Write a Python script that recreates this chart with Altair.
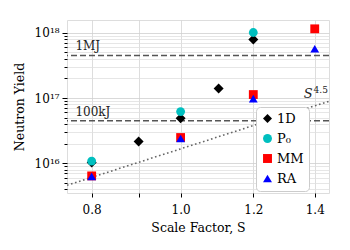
import altair as alt
import pandas as pd

# ---- data ----
series_names = ["1D", "P₀", "MM", "RA"]
s_1d = [0.8, 0.9, 1.0, 1.1, 1.2]
y_1d = [1.03e16, 2.15e16, 4.9e16, 1.4e17, 7.9e17]
s_p0 = [0.8, 1.0, 1.2]
y_p0 = [1.08e16, 6.2e16, 1.01e18]
s_mm = [0.8, 1.0, 1.2, 1.4]
y_mm = [6.4e15, 2.48e16, 1.13e17, 1.15e18]
s_ra = [0.8, 1.0, 1.2, 1.4]
y_ra = [6.3e15, 2.4e16, 9.8e16, 5.7e17]

# S^4.5 guide line (end points)
s_fit = [0.752, 1.451]
y_fit = [4.6e15, 8.9e16]

# energy reference lines
energy_labels = ["1MJ", "100kJ"]
energy_yield = [4.5e17, 4.5e16]

x_ticks = [0.8, 0.9, 1.0, 1.2, 1.4]
y_major = [1e16, 1e17, 1e18]
y_minor = [4e15, 5e15, 6e15, 7e15, 8e15, 9e15,
           2e16, 3e16, 4e16, 5e16, 6e16, 7e16, 8e16, 9e16,
           2e17, 3e17, 4e17, 5e17, 6e17, 7e17, 8e17, 9e17]

x_domain = [0.752, 1.451]
y_domain = [3.5e15, 1.57e18]

FONT = "DejaVu Serif"

rows = []
for name, ss, yy in [("1D", s_1d, y_1d), ("P₀", s_p0, y_p0),
                     ("MM", s_mm, y_mm), ("RA", s_ra, y_ra)]:
    for s, y in zip(ss, yy):
        rows.append({"S": s, "Y": y, "series": name, "order": series_names.index(name)})
pts = pd.DataFrame(rows)

xscale = alt.Scale(type="log", domain=x_domain, nice=False)
yscale = alt.Scale(type="log", domain=y_domain, nice=False)

major_test = "datum.value == 1e16 || datum.value == 1e17 || datum.value == 1e18"

x_axis = alt.Axis(
    values=x_ticks,
    labelExpr="datum.value == 0.9 ? '' : format(datum.value, '.1f')",
    title="Scale Factor, S",
    grid=True, gridColor="#d4d4d4", gridWidth=0.8,
    domain=False, ticks=True, tickColor="black", tickSize=4,
    labelFont=FONT, labelFontSize=12, labelColor="black", labelPadding=7,
    titleFont=FONT, titleFontSize=12.5, titleFontWeight="normal", titleColor="black",
    titlePadding=6,
)
y_axis = alt.Axis(
    values=y_major + y_minor,
    labelExpr="datum.value == 1e16 ? '10¹⁶' : datum.value == 1e17 ? '10¹⁷' : datum.value == 1e18 ? '10¹⁸' : ''",
    title="Neutron Yield",
    grid=True,
    gridColor={"condition": {"test": major_test, "value": "#cfcfcf"}, "value": "#e0e0e0"},
    gridWidth=0.8,
    domain=False, ticks=True, tickColor="black",
    tickSize={"condition": {"test": major_test, "value": 5}, "value": 3},
    labelFont=FONT, labelFontSize=12, labelColor="black", labelPadding=3,
    titleFont=FONT, titleFontSize=12.5, titleFontWeight="normal", titleColor="black",
    titlePadding=8,
)

base = alt.Chart(pts)

points = base.mark_point(filled=True, opacity=1, strokeWidth=0).encode(
    x=alt.X("S:Q", scale=xscale, axis=x_axis),
    y=alt.Y("Y:Q", scale=yscale, axis=y_axis),
    color=alt.Color("series:N",
                    scale=alt.Scale(domain=series_names,
                                    range=["#000000", "#00bfbf", "#ff0000", "#0000ff"]),
                    legend=alt.Legend(title=None, orient="none", legendX=189, legendY=87,
                                      fillColor="white", strokeColor="#cccccc",
                                      cornerRadius=4, padding=5,
                                      labelFont=FONT, labelFontSize=13, labelColor="black",
                                      symbolSize=80, rowPadding=6, labelOffset=3,
                                      symbolStrokeWidth=0)),
    shape=alt.Shape("series:N",
                    scale=alt.Scale(domain=series_names,
                                    range=["diamond", "circle", "square", "triangle-up"]),
                    legend=alt.Legend(title=None)),
    size=alt.condition(alt.datum.series == "1D", alt.value(100), alt.value(78)),
    order=alt.Order("order:Q"),
)

energy_df = pd.DataFrame({"label": energy_labels, "Y": energy_yield, "S": [0.768, 0.768]})
rules = alt.Chart(energy_df).mark_rule(color="#555555", strokeWidth=1.5,
                                       strokeDash=[6, 3]).encode(
    y=alt.Y("Y:Q", scale=yscale))
energy_text = alt.Chart(energy_df).mark_text(
    align="left", baseline="bottom", dy=-2, font=FONT, fontSize=12, color="#222222"
).encode(x=alt.X("S:Q", scale=xscale), y=alt.Y("Y:Q", scale=yscale), text="label:N")

fit_df = pd.DataFrame({"S": s_fit, "Y": y_fit})
fit = alt.Chart(fit_df).mark_line(color="#666666", strokeWidth=1.6,
                                  strokeDash=[1.6, 2.6], clip=True).encode(
    x=alt.X("S:Q", scale=xscale), y=alt.Y("Y:Q", scale=yscale))

s_lab = pd.DataFrame({"S": [1.362], "Y": [1.0e17], "t": ["S"]})
p_lab = pd.DataFrame({"S": [1.396], "Y": [1.19e17], "t": ["4.5"]})
s_text = alt.Chart(s_lab).mark_text(align="left", baseline="alphabetic", font=FONT,
                                    fontSize=13, fontStyle="italic", color="#222222").encode(
    x=alt.X("S:Q", scale=xscale), y=alt.Y("Y:Q", scale=yscale), text="t:N")
p_text = alt.Chart(p_lab).mark_text(align="left", baseline="alphabetic", font=FONT,
                                    fontSize=9, color="#222222").encode(
    x=alt.X("S:Q", scale=xscale), y=alt.Y("Y:Q", scale=yscale), text="t:N")

chart = alt.layer(rules, fit, points, energy_text, s_text, p_text).properties(
    width=262, height=173,
    padding={"left": 5, "top": 12, "right": 5, "bottom": 5},
).configure_view(stroke="black", strokeWidth=1.5).configure(background="white")

chart.save("out.html", embed_options={"renderer": "svg", "actions": False})
